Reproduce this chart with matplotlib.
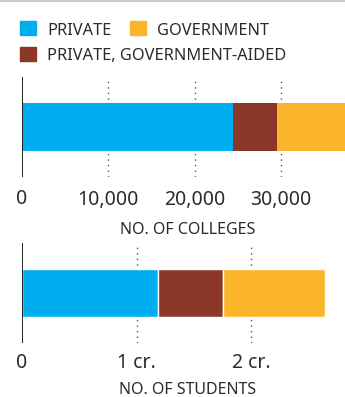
import matplotlib
matplotlib.use("Agg")
import matplotlib.pyplot as plt
from matplotlib.lines import Line2D
from matplotlib.patches import Rectangle

plt.rcParams['font.family'] = ['Noto Sans', 'DejaVu Sans']

categories = ["PRIVATE", "PRIVATE, GOVERNMENT-AIDED", "GOVERNMENT"]
colors = ["#00AEEF", "#8B3829", "#FBB52B"]
colleges = [24400, 5150, 9500]
students = [1.19, 0.56, 0.89]  # crore
college_ticks = [0, 10000, 20000, 30000]
college_labels = ["0", "10,000", "20,000", "30,000"]
student_ticks = [0, 1, 2]
student_labels = ["0", "1 cr.", "2 cr."]

W, H = 345, 397
fig = plt.figure(figsize=(W / 100, H / 100), dpi=100)
txt = "#2b2b2b"

# top gray rule
fig.add_artist(Line2D([0, 1], [1 - 1 / H, 1 - 1 / H], color="#cccccc", lw=1.6,
                      transform=fig.transFigure))

def make_axes(top_px, bot_px, xmax, values, ticks, labels, pad, xlabel, label_y_px,
              edge):
    ax = fig.add_axes([22 / W, 1 - bot_px / H, (W - 22) / W, (bot_px - top_px) / H])
    ax.set_xlim(0, xmax)
    ax.set_ylim(0, 1)
    left = 0
    for v, c in zip(values, colors):
        ax.barh(0.503, v, left=left, height=0.48, color=c, edgecolor=edge,
                linewidth=1.0 if edge != "none" else 0, zorder=2)
        left += v
    for t in ticks[1:]:
        ax.axvline(t, color="#555555", lw=1.0, ls=(0, (1, 3)), zorder=1)
    ax.axvline(0, color="#222222", lw=1.4, zorder=3)
    for s in ax.spines.values():
        s.set_visible(False)
    ax.set_yticks([])
    ax.set_xticks(ticks)
    ax.set_xticklabels(labels, fontsize=14, color=txt)
    ax.tick_params(axis="x", length=0, pad=pad)
    ax.patch.set_alpha(0)
    fig.text(188 / W, 1 - label_y_px / H, xlabel, ha="center", va="center",
             fontsize=11.5, color=txt)
    return ax

make_axes(77, 177, 37414, colleges, college_ticks, college_labels, 9,
          "NO. OF COLLEGES", 230, "none")
make_axes(243, 343, 2.817, students, student_ticks, student_labels, 7,
          "NO. OF STUDENTS", 390, "white")

# legend
leg_fs = 11.8
fig.text(47 / W, 1 - 35.3 / H, categories[0], fontsize=leg_fs, color=txt, va="baseline")
fig.text(157 / W, 1 - 35.3 / H, categories[2], fontsize=leg_fs, color=txt, va="baseline")
fig.text(47 / W, 1 - 59.5 / H, categories[1], fontsize=leg_fs, color=txt, va="baseline")
for (x, y), c in zip([(20, 21), (130, 21), (20, 47)], [colors[0], colors[2], colors[1]]):
    fig.add_artist(Rectangle((x / W, 1 - (y + 14) / H), 16 / W, 14 / H, color=c,
                             transform=fig.transFigure))

fig.savefig("out.png", dpi=100)
